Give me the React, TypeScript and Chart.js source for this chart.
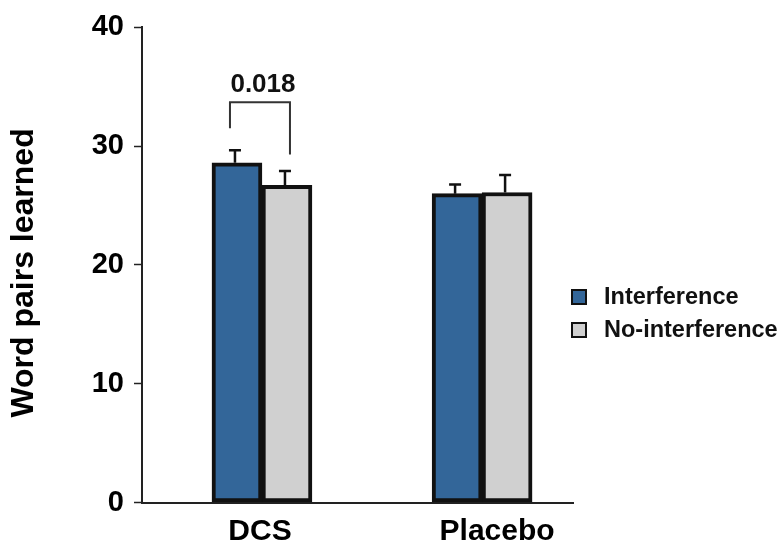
import React, { useEffect, useRef } from "react";
import { Chart, registerables } from "chart.js";

Chart.register(...registerables);

const categories = ["DCS", "Placebo"];
const seriesNames = ["Interference", "No-interference"];
const interference = [28.6, 26.0];
const noInterference = [26.7, 26.1];
const interferenceErr = [1.05, 0.78];
const noInterferenceErr = [1.2, 1.47];
const yTicks = [0, 10, 20, 30, 40];
const seriesColors = ["#336699", "#d0d0d0"];
const yTitle = "Word pairs learned";

const pValueLabel = "0.018";
const pValueY = 35.1;
const bracketTop = 33.7;
const bracketLeftEnd = 31.5;
const bracketRightEnd = 29.3;

const FONT = "'Liberation Sans', Arial, Helvetica, sans-serif";
const labelOffsets = [-2, 15];

const errorBarPlugin = {
  id: "errorBars",
  afterDatasetsDraw(chart: any) {
    const ctx = chart.ctx;
    const yScale = chart.scales.y;
    const xScale = chart.scales.x;
    const area = chart.chartArea;
    const errs = [interferenceErr, noInterferenceErr];
    const vals = [interference, noInterference];
    ctx.save();
    ctx.strokeStyle = "#111";
    ctx.lineWidth = 2.5;
    chart.data.datasets.forEach((_: any, di: number) => {
      const meta = chart.getDatasetMeta(di);
      meta.data.forEach((bar: any, i: number) => {
        const yTop = yScale.getPixelForValue(vals[di][i] + errs[di][i]);
        const x = bar.x - 2;
        ctx.beginPath();
        ctx.moveTo(x, bar.y);
        ctx.lineTo(x, yTop);
        ctx.moveTo(x - 6, yTop);
        ctx.lineTo(x + 6, yTop);
        ctx.stroke();
      });
    });

    // significance bracket on DCS
    const b0 = chart.getDatasetMeta(0).data[0];
    const b1 = chart.getDatasetMeta(1).data[0];
    const xl = b0.x - 7;
    const xr = b1.x + 3;
    ctx.strokeStyle = "#333";
    ctx.lineWidth = 2;
    ctx.beginPath();
    ctx.moveTo(xl, yScale.getPixelForValue(bracketLeftEnd));
    ctx.lineTo(xl, yScale.getPixelForValue(bracketTop));
    ctx.lineTo(xr, yScale.getPixelForValue(bracketTop));
    ctx.lineTo(xr, yScale.getPixelForValue(bracketRightEnd));
    ctx.stroke();
    ctx.fillStyle = "#111";
    ctx.font = `bold 26px ${FONT}`;
    ctx.textAlign = "center";
    ctx.textBaseline = "middle";
    ctx.fillText(pValueLabel, (b0.x + b1.x) / 2 + 1, yScale.getPixelForValue(pValueY) - 1);

    // category labels
    ctx.fillStyle = "#000";
    ctx.font = `bold 30px ${FONT}`;
    categories.forEach((c, i) => {
      ctx.fillText(c, xScale.getPixelForValue(i + 1) + labelOffsets[i], area.bottom + 29);
    });

    // y title
    ctx.save();
    ctx.translate(24, (area.top + area.bottom) / 2 + 8);
    ctx.rotate(-Math.PI / 2);
    ctx.font = `bold 32px ${FONT}`;
    ctx.fillText(yTitle, 0, 0);
    ctx.restore();

    // legend
    const lx = area.right - 1;
    const rows = [297, 330];
    ctx.textAlign = "left";
    ctx.font = `bold 23.5px ${FONT}`;
    seriesNames.forEach((name, i) => {
      ctx.fillStyle = seriesColors[i];
      ctx.fillRect(lx, rows[i] - 7, 14, 14);
      ctx.strokeStyle = "#111";
      ctx.lineWidth = 2;
      ctx.strokeRect(lx, rows[i] - 7, 14, 14);
      ctx.fillStyle = "#111";
      ctx.fillText(name, lx + 32, rows[i] + 1);
    });
    ctx.restore();
  },
};

export default function App() {
  const ref = useRef<HTMLCanvasElement | null>(null);
  useEffect(() => {
    if (!ref.current) return;
    const chart = new Chart(ref.current, {
      type: "bar",
      data: {
        labels: categories,
        datasets: [
          {
            label: seriesNames[0],
            data: interference.map((y, i) => ({ x: i + 1, y })),
            backgroundColor: seriesColors[0],
            borderColor: "#111",
            borderWidth: 4,
            borderSkipped: false,
            barThickness: 50,
          },
          {
            label: seriesNames[1],
            data: noInterference.map((y, i) => ({ x: i + 1, y })),
            backgroundColor: seriesColors[1],
            borderColor: "#111",
            borderWidth: 4,
            borderSkipped: false,
            barThickness: 50,
          },
        ],
      },
      options: {
        animation: false,
        responsive: false,
        layout: { padding: { top: 22, right: 207, bottom: 0, left: 0 } },
        plugins: { legend: { display: false }, tooltip: { enabled: false } },
        scales: {
          x: {
            type: "linear",
            offset: false,
            min: 0.455,
            max: 2.413,
            grid: { display: false, drawTicks: false },
            border: { display: true, color: "#222", width: 2 },
            ticks: { display: false },
            afterFit: (s: any) => {
              s.height = 47.5;
            },
          },
          y: {
            min: 0,
            max: 40,
            afterBuildTicks: (s: any) => {
              s.ticks = yTicks.map((v) => ({ value: v }));
            },
            grid: {
              drawOnChartArea: false,
              drawTicks: true,
              tickLength: 8,
              tickColor: "#222",
              tickWidth: 1.5,
            },
            border: { color: "#222", width: 2 },
            ticks: {
              font: { family: FONT, size: 29, weight: "bold" },
              color: "#000",
              padding: 10,
            },
            afterFit: (s: any) => {
              s.width = 142;
            },
          },
        },
      } as any,
      plugins: [errorBarPlugin],
    });
    return () => chart.destroy();
  }, []);
  return (
    <div style={{ position: "absolute", left: 0, top: 0, width: 780, height: 550, background: "#fff" }}>
      <canvas ref={ref} width={780} height={550} />
    </div>
  );
}
